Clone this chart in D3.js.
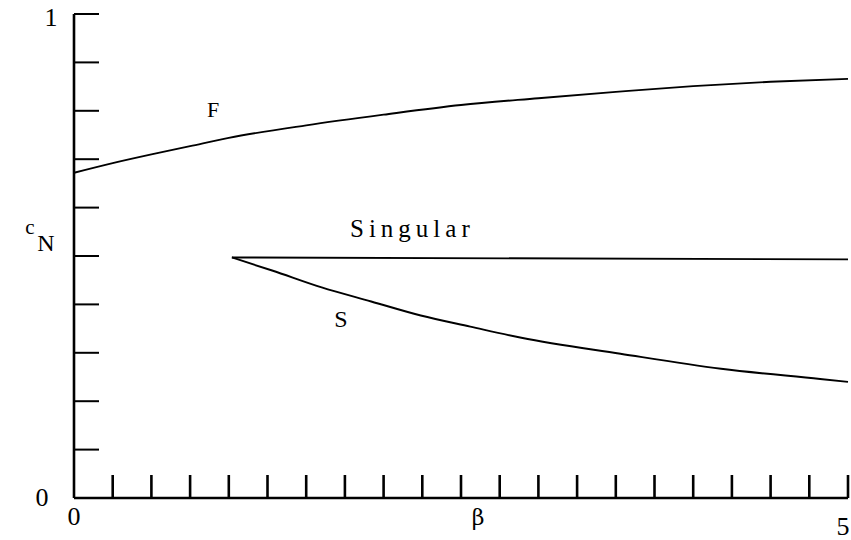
<!DOCTYPE html>
<html><head><meta charset="utf-8">
<script src="https://cdn.jsdelivr.net/npm/d3@7"></script>
<style>body{margin:0;background:#fff}svg{display:block}text{font-family:"Liberation Serif","DejaVu Serif",serif;fill:#000}</style>
</head><body><svg id="c" width="851" height="540"></svg>
<script>
const fBeta = [0,0.25,0.5,0.75,1,1.5,2,2.5,3,3.5,4,4.5,5];
const fVals = [0.672,0.692,0.710,0.727,0.744,0.770,0.792,0.812,0.826,0.839,0.851,0.860,0.866];
const sBeta = [1.02,1.28,1.6,1.92,2.24,2.56,2.89,3.53,4.18,4.82,5];
const sVals = [0.497,0.470,0.435,0.406,0.377,0.354,0.331,0.298,0.267,0.246,0.240];
const singBeta = [1.02,5];
const singVals = [0.497,0.493];
const xTicks = d3.range(1,21).map(i=>i*0.25);
const yTicks = d3.range(1,11).map(i=>i/10);

const svg = d3.select("#c");
const x = d3.scaleLinear().domain([0,5]).range([74,848]);
const y = d3.scaleLinear().domain([0,1]).range([498,14]);

// axes
const ax = svg.append("g").attr("stroke","#000").attr("stroke-width",2.6).attr("fill","none");
ax.append("line").attr("x1",x(0)).attr("x2",x(0)).attr("y1",y(1)).attr("y2",y(0));
ax.append("line").attr("x1",x(0)).attr("x2",x(5)).attr("y1",y(0)).attr("y2",y(0));
ax.selectAll(".yt").data(yTicks).join("line").attr("x1",x(0)).attr("x2",x(0)+25).attr("y1",d=>y(d)).attr("y2",d=>y(d)).attr("stroke-width",2);
ax.selectAll(".xt").data(xTicks).join("line").attr("x1",d=>x(d)).attr("x2",d=>x(d)).attr("y1",y(0)).attr("y2",y(0)-23).attr("stroke-width",2.6);

const line = d3.line().x(d=>x(d[0])).y(d=>y(d[1])).curve(d3.curveMonotoneX);
const g = svg.append("g").attr("stroke","#000").attr("stroke-width",1.9).attr("fill","none");
g.append("path").attr("d", line(fBeta.map((b,i)=>[b,fVals[i]])));
g.append("path").attr("d", line(sBeta.map((b,i)=>[b,sVals[i]])));
g.append("path").attr("d", line(singBeta.map((b,i)=>[b,singVals[i]])));

// labels
const t = (s,xx,yy,size,anchor="middle")=>svg.append("text").attr("x",xx).attr("y",yy).attr("font-size",size).attr("text-anchor",anchor).text(s);
t("1",51,26,26);
t("0",42,506,26);
t("0",74,525,26);
t("5",843,535,26);
t("β",478,525,22).style("font-family","'DejaVu Serif',serif");
t("F",213,117,22);
t("Singular",350,237,25,"start").attr("letter-spacing",5);
t("S",341,327,24);
t("c",30,234,21);
t("N",46,251,24);
</script></body></html>
